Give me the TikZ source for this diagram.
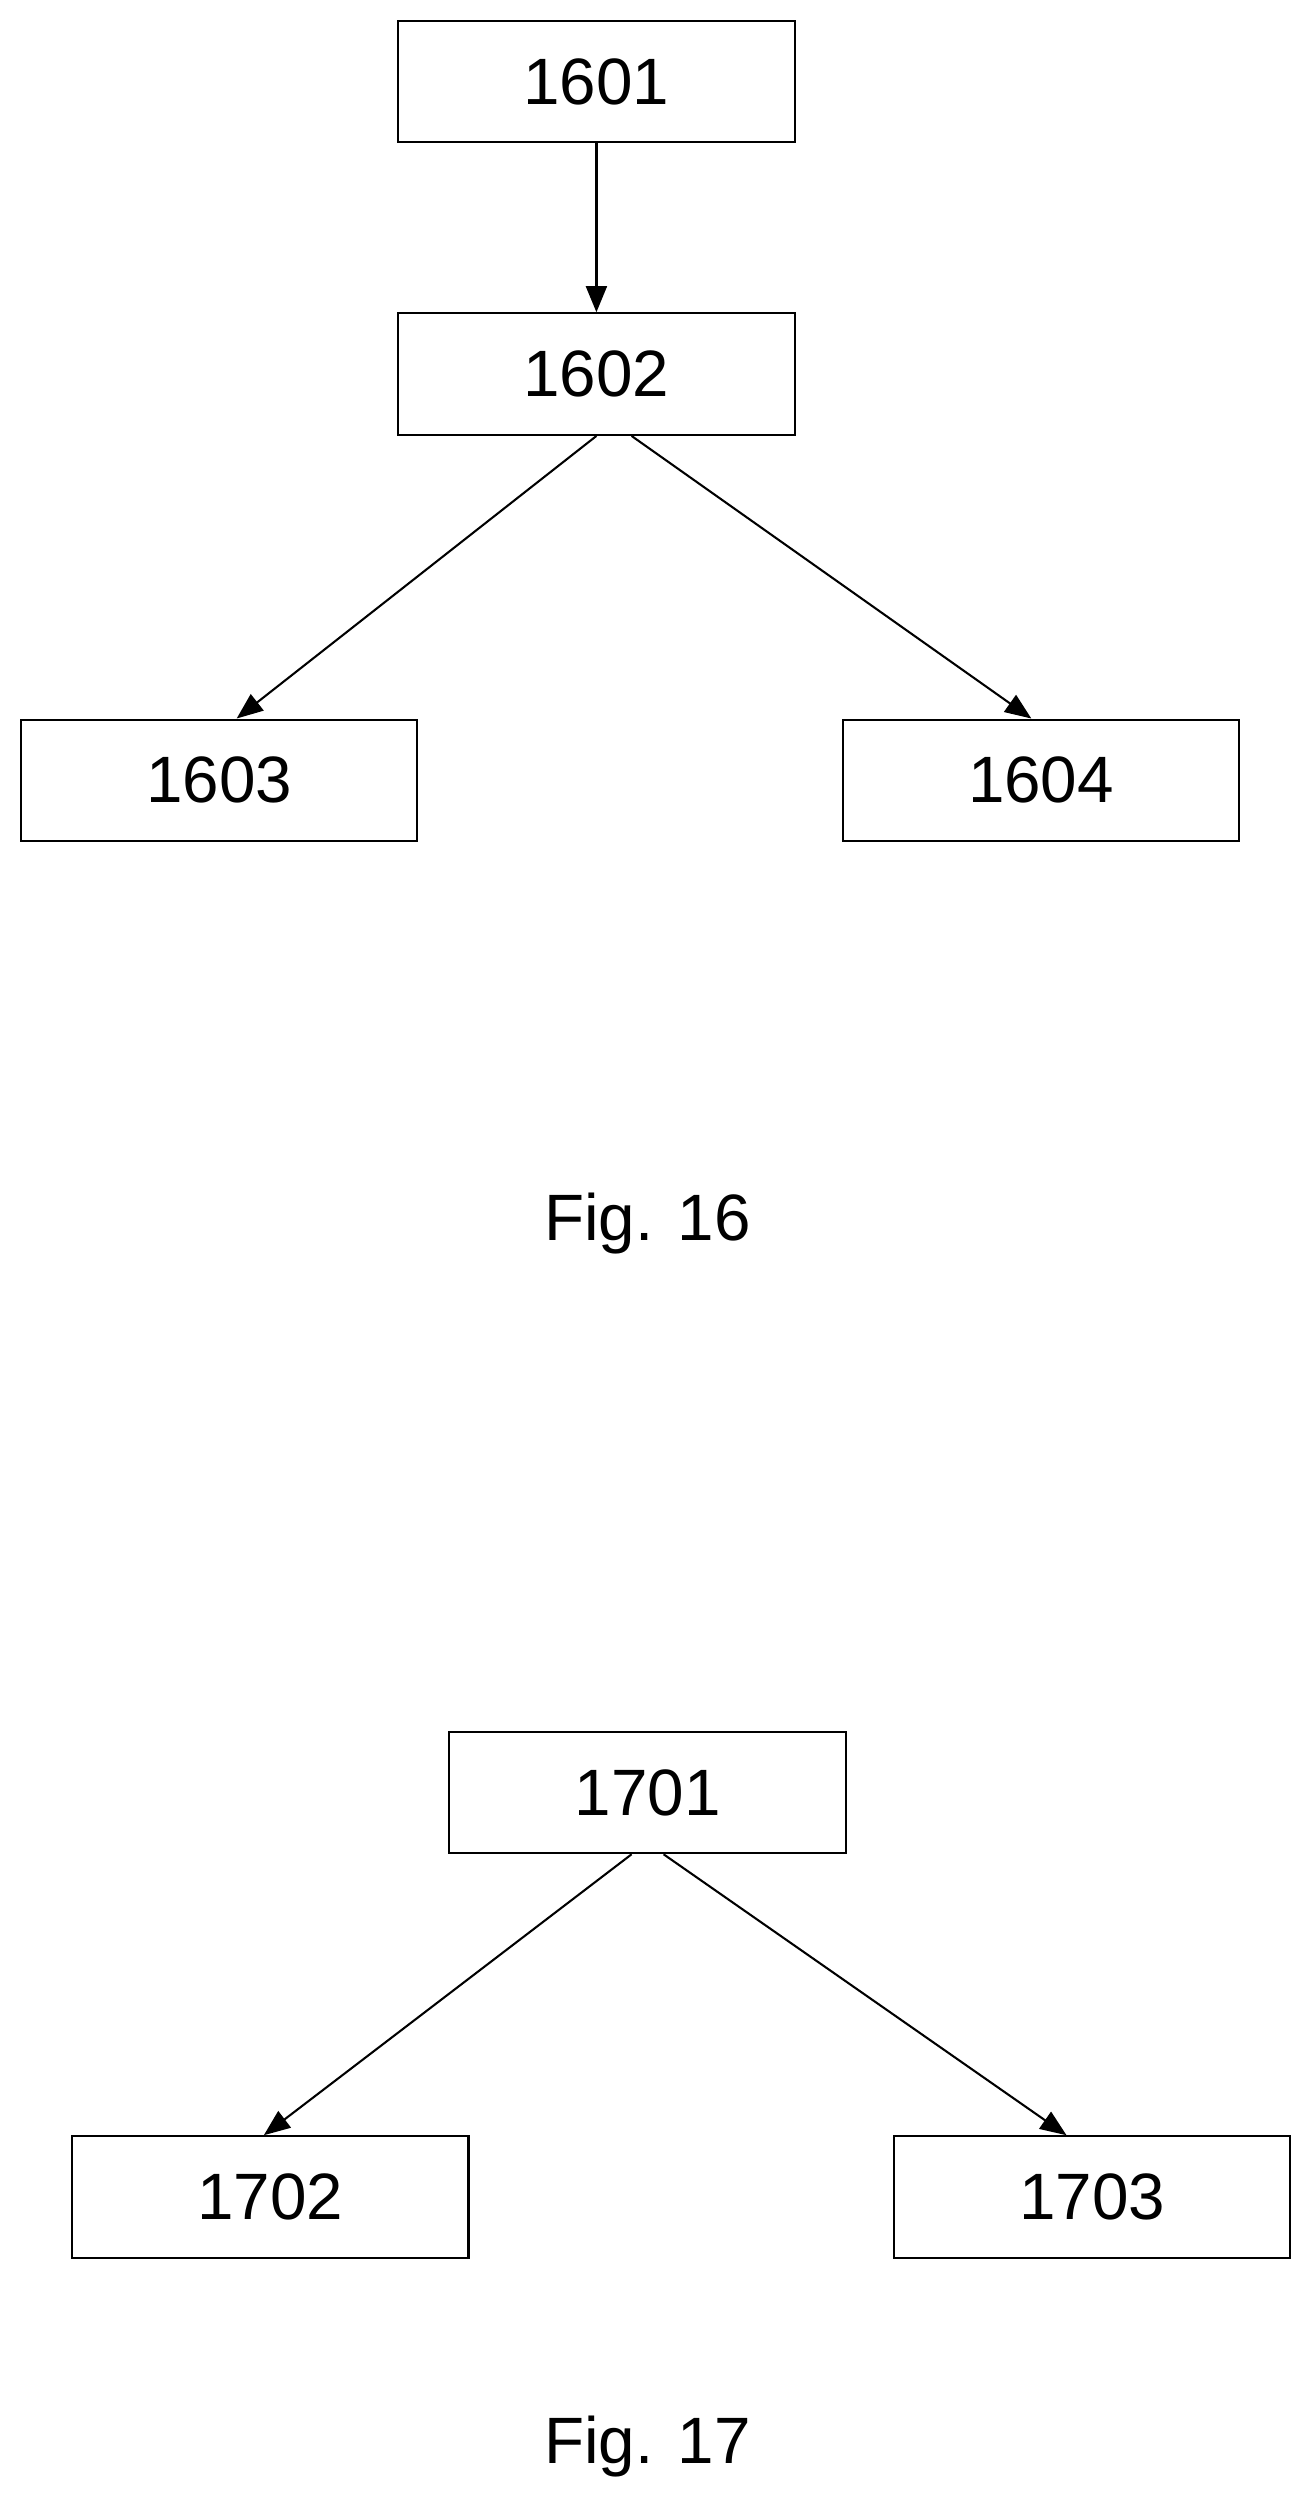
\documentclass[tikz,border=0pt]{standalone}
\usepackage{fontspec}
\setmainfont{Liberation Sans}
\usetikzlibrary{arrows.meta,positioning}

\begin{document}
\begin{tikzpicture}[x=0.03cm, y=-0.03cm,
  box/.style={draw, line width=1.1pt, minimum width=7.44cm, minimum height=2.28cm,
    inner sep=0pt, font=\fontsize{35}{40}\selectfont},
  link/.style={-{Triangle[length=14pt,width=11pt]}, line width=1.1pt},
  figlabel/.style={font=\fontsize{35}{40}\selectfont}]

\useasboundingbox (0,0) rectangle (823,1571);

% Fig. 16
\node[box] (n1601) at (373,51) {1601};
\node[box] (n1602) at (373,234) {1602};
\node[box] (n1603) at (137,488) {1603};
\node[box] (n1604) at (651,488) {1604};
\node[figlabel] (fig16) at (405,765) {Fig. 16};

\draw[link, line width=1.8pt] (n1601) -- (n1602);
\draw[link] (n1602.south) -- ([xshift=0.33cm]n1603.north);
\draw[link] ([xshift=0.66cm]n1602.south) -- ([xshift=-0.18cm]n1604.north);

% Fig. 17
\node[box] (n1701) at (405,1121) {1701};
\node[box] (n1702) at (169,1374) {1702};
\node[box] (n1703) at (683,1374) {1703};
\node[figlabel] (fig17) at (405,1530) {Fig. 17};

\draw[link] ([xshift=-0.3cm]n1701.south) -- ([xshift=-0.12cm]n1702.north);
\draw[link] ([xshift=0.3cm]n1701.south) -- ([xshift=-0.48cm]n1703.north);

\end{tikzpicture}
\end{document}
